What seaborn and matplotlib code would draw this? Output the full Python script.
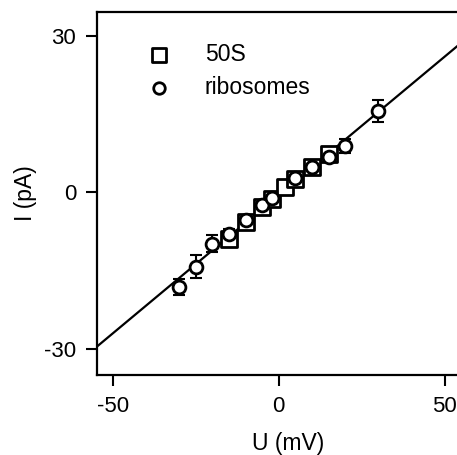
import matplotlib
matplotlib.use("Agg")
import matplotlib.pyplot as plt
import seaborn as sns
import numpy as np
import pandas as pd

# data
u_50s = [-15, -10, -5, -2, 2, 5, 10, 15]
i_50s = [-9.0, -5.6, -2.7, -1.2, 1.1, 2.6, 4.8, 7.3]
e_50s = [0.5, 0.4, 0.4, 0.3, 0.3, 0.4, 0.4, 0.5]

u_rib = [-30, -25, -20, -15, -10, -5, -2, 5, 10, 15, 20, 30]
i_rib = [-18.1, -14.2, -9.8, -7.9, -5.2, -2.5, -1.0, 2.7, 4.8, 6.8, 8.9, 15.7]
e_rib = [1.5, 2.2, 1.6, 0.8, 0.5, 0.5, 0.4, 0.5, 0.6, 0.7, 1.3, 2.1]

fit_u = [-60, 65]
fit_i = [-32.3, 34.0]

x_ticks = [-50, 0, 50]
y_ticks = [-30, 0, 30]

sns.set_theme(style="ticks")
plt.rcParams['font.family'] = ['Liberation Sans', 'DejaVu Sans']
plt.rcParams['axes.unicode_minus'] = False
plt.rcParams['text.color'] = 'black'
plt.rcParams['axes.labelcolor'] = 'black'
plt.rcParams['xtick.color'] = 'black'
plt.rcParams['ytick.color'] = 'black'

fig = plt.figure(figsize=(4.57, 4.55), dpi=100)
ax = fig.add_axes([97/457, 1-375/455, 1.05 - 97/457, (375-12)/455])

df_fit = pd.DataFrame({"U": fit_u, "I": fit_i})
sns.lineplot(data=df_fit, x="U", y="I", ax=ax, color="black", lw=1.6, zorder=1)

ax.errorbar(u_rib, i_rib, yerr=e_rib, fmt="none", ecolor="black", elinewidth=1.5,
            capsize=4, capthick=1.5, zorder=2)
ax.errorbar(u_50s, i_50s, yerr=e_50s, fmt="none", ecolor="black", elinewidth=1.5,
            capsize=4, capthick=1.5, zorder=2)

df50 = pd.DataFrame({"U": u_50s, "I": i_50s})
dfr = pd.DataFrame({"U": u_rib, "I": i_rib})
sns.scatterplot(data=df50, x="U", y="I", ax=ax, marker="s", s=130, facecolor="white",
                edgecolor="black", linewidth=2, zorder=3, label="50S")
sns.scatterplot(data=dfr, x="U", y="I", ax=ax, marker="o", s=85, facecolor="white",
                edgecolor="black", linewidth=2, zorder=4, label="ribosomes")

ax.set_xlim(-54.8, 60.6)
ax.set_ylim(-35, 34.6)
ax.set_xticks(x_ticks)
ax.set_yticks(y_ticks)
ax.set_xlabel("U (mV)", fontsize=16.5, labelpad=11)
ax.set_ylabel("I (pA)", fontsize=16.5, labelpad=5)
ax.tick_params(labelsize=16, width=1.5, length=8, color="black", direction="out")
ax.tick_params(axis="x", pad=7)
ax.tick_params(axis="y", pad=7)
for s in ["left", "bottom", "top"]:
    ax.spines[s].set_linewidth(1.6)
    ax.spines[s].set_color("black")
ax.spines["right"].set_visible(False)

leg = ax.legend(loc="upper left", bbox_to_anchor=(0.048, 0.972), frameon=False,
                fontsize=16.5, handletextpad=1.0, labelspacing=0.45, markerscale=0.9)

fig.savefig("out.png", dpi=100)
